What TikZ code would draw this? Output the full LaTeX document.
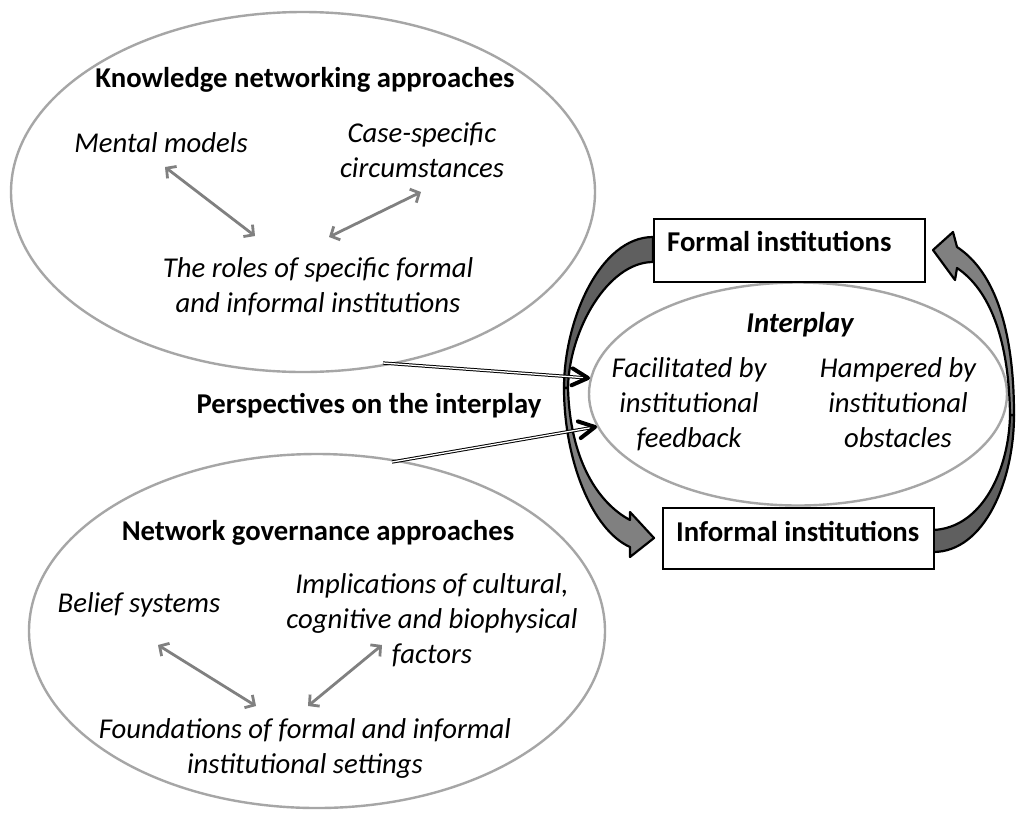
\documentclass[tikz,border=0pt]{standalone}
\usepackage{fontspec}
\setmainfont{Carlito}
\usetikzlibrary{arrows.meta,shapes.geometric,calc}
\definecolor{ovalgray}{HTML}{A6A6A6}
\definecolor{arrgray}{HTML}{808080}
\definecolor{ribdark}{HTML}{5F5F5F}
\definecolor{riblight}{HTML}{808080}
\begin{document}
\begin{tikzpicture}[x=1pt,y=-1pt,
  txt/.style={font=\fontsize{28.7}{35}\selectfont, inner sep=0pt, align=center, anchor=base},
  itx/.style={txt, font=\fontsize{28.7}{35}\selectfont\itshape},
  btx/.style={txt, font=\fontsize{28.7}{35}\selectfont\bfseries},
  bitx/.style={txt, font=\fontsize{28.7}{35}\selectfont\bfseries\itshape},
  oval/.style={ellipse, draw=ovalgray, line width=2.4pt, inner sep=0pt},
  garrow/.style={draw=arrgray, line width=2.8pt, {Straight Barb[length=7pt,width=15pt]}-{Straight Barb[length=7pt,width=15pt]}},
  ibox/.style={draw=black, line width=2.4pt, fill=white, anchor=north west, inner xsep=13pt, inner ysep=12pt, font=\fontsize{28.7}{35}\selectfont\bfseries},
  dline/.style={draw=black, double=white, line width=1pt, double distance=1.3pt, shorten >=3pt},
  chev/.style={draw=black, line width=4pt, line cap=round, line join=round},
  ribbon/.style={draw=black, line width=2.2pt, line join=round}
]
\fill[white] (0,0) rectangle (1016,812);
\useasboundingbox (0,0) rectangle (1016,812);

% ellipses
\node[oval, minimum width=584pt, minimum height=360pt] (kn) at (303,192) {};
\node[oval, minimum width=576pt, minimum height=354pt] (ng) at (317,631) {};
\node[oval, minimum width=418pt, minimum height=223pt] (ip) at (798,394) {};

% left curved arrow
\filldraw[ribbon, fill=ribdark] (653,237) .. controls (600,237) and (564,320) .. (564,388)
  -- (568,388) .. controls (569,330) and (608,262) .. (653,262) -- cycle;
\filldraw[ribbon, fill=riblight] (564,388) .. controls (564,460) and (592,530) .. (630,547)
  -- (630,557) -- (654,538) -- (630,512) -- (630,520)
  .. controls (598,503) and (570,460) .. (568,388) -- cycle;

% right curved arrow
\filldraw[ribbon, fill=ribdark] (933,552) .. controls (985,552) and (1014,480) .. (1014,415)
  -- (1010,415) .. controls (1009,470) and (982,528) .. (933,530) -- cycle;
\filldraw[ribbon, fill=riblight] (1014,415) .. controls (1014,330) and (995,272) .. (957,247)
  -- (953,232) -- (933,250) -- (955,280) -- (957,268)
  .. controls (990,290) and (1009,340) .. (1010,415) -- cycle;

% boxes
\node[ibox, text height=20pt, text depth=19pt] (formal) at (653,218) {\makebox[245pt][l]{Formal institutions}};
\node[ibox, text height=21pt, text depth=16pt] (informal) at (662,507) {\makebox[245pt][l]{Informal institutions}};

% texts (multi-line nodes are placed by the baseline of their last line)
\node[btx] (kntitle) at (305,87) {Knowledge networking approaches};
\node[itx] (mental) at (161,152) {Mental models};
\node[itx] (case) at (422,177) {Case-specific\\circumstances};
\node[itx] (roles) at (318,312) {The roles of specific formal\\and informal institutions};
\node[btx] (persp) at (369,413) {Perspectives on the interplay};
\node[btx] (ngtitle) at (318,540) {Network governance approaches};
\node[itx] (belief) at (139,612) {Belief systems};
\node[itx] (impl) at (432,663) {Implications of cultural,\\cognitive and biophysical\\factors};
\node[itx] (found) at (305,773) {Foundations of formal and informal\\institutional settings};
\node[bitx] (interplay) at (800,332) {Interplay};
\node[itx] (facil) at (689,447) {Facilitated by\\institutional\\feedback};
\node[itx] (hamp) at (898,447) {Hampered by\\institutional\\obstacles};

% small gray arrows
\coordinate (a1) at (165,167); \coordinate (a2) at (255,236);
\coordinate (b1) at (421,192); \coordinate (b2) at (329,237);
\coordinate (c1) at (158,645); \coordinate (c2) at (256,706);
\coordinate (d1) at (382,645); \coordinate (d2) at (308,706);
\draw[garrow] (a1) -- (a2);
\draw[garrow] (b1) -- (b2);
\draw[garrow] (c1) -- (c2);
\draw[garrow] (d1) -- (d2);

% perspective arrows
\coordinate (p1s) at (383,363); \coordinate (p1t) at (588,378);
\coordinate (p2s) at (392,462); \coordinate (p2t) at (595,427);
\draw[dline] (p1s) -- (p1t);
\draw[dline] (p2s) -- (p2t);
\draw[chev] ($(p1t)!18pt!28:(p1s)$) -- (p1t) -- ($(p1t)!18pt!-28:(p1s)$);
\draw[chev] ($(p2t)!18pt!28:(p2s)$) -- (p2t) -- ($(p2t)!18pt!-28:(p2s)$);
\end{tikzpicture}
\end{document}
